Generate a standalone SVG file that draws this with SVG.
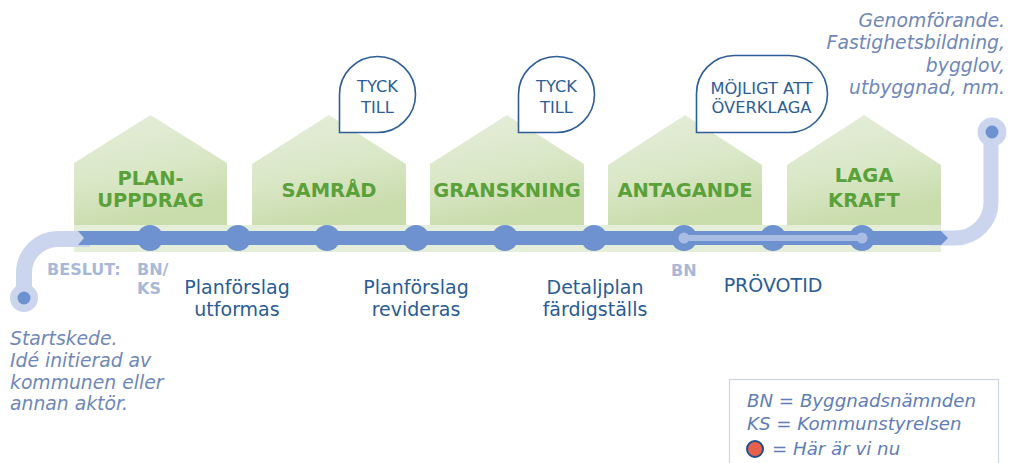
<svg xmlns="http://www.w3.org/2000/svg" width="1015" height="463" viewBox="0 0 1015 463">
<defs>
<linearGradient id="hg" x1="0" y1="0" x2="0.3" y2="1">
<stop offset="0" stop-color="#e6eedc"/>
<stop offset="0.6" stop-color="#d9e7c6"/>
<stop offset="1" stop-color="#c9dcab"/>
</linearGradient>
<style>
.house{fill:url(#hg)}
.ht{font-family:"DejaVu Sans",Verdana,sans-serif;font-weight:bold;font-size:19.5px;fill:#5aa13a;text-anchor:middle}
.dot{fill:#6e92d0}
.lt{font-family:"DejaVu Sans",Verdana,sans-serif;font-weight:bold;font-size:16px;fill:#a8b8d9}
.st{font-family:"DejaVu Sans",Verdana,sans-serif;font-size:19px;fill:#2a5c94;text-anchor:middle}
.it{font-family:"DejaVu Sans",Verdana,sans-serif;font-style:italic;font-size:18.8px;fill:#6f88b8}
.bub{fill:#ffffff;stroke:#2e5e96;stroke-width:1.6}
.bt{font-family:"DejaVu Sans",Verdana,sans-serif;font-size:16.3px;fill:#2e5e96;text-anchor:middle}
.lg{font-family:"DejaVu Sans",Verdana,sans-serif;font-style:italic;font-size:18.2px;fill:#5f7db6}
</style>
</defs>
<rect width="1015" height="463" fill="#ffffff"/>

<g id="band">
<rect x="74" y="225" width="867" height="27" fill="#e4eed8"/>
</g>

<g id="house-planuppdrag">
<polygon class="house" points="74,225 74,163 150.5,115 227,163 227,225"/>
<text class="ht" x="150.5" y="185">PLAN-</text>
<text class="ht" x="150.5" y="207">UPPDRAG</text>
</g>
<g id="house-samrad">
<polygon class="house" points="252,225 252,164 329,115 406,164 406,225"/>
<text class="ht" x="329" y="197">SAMRÅD</text>
</g>
<g id="house-granskning">
<polygon class="house" points="430,225 430,164 507,115 584,164 584,225"/>
<text class="ht" x="507" y="197">GRANSKNING</text>
</g>
<g id="house-antagande">
<polygon class="house" points="608,225 608,165 685,115 762,165 762,225"/>
<text class="ht" x="685" y="197">ANTAGANDE</text>
</g>
<g id="house-lagakraft">
<polygon class="house" points="787,225 787,165 864,115 941,165 941,225"/>
<text class="ht" x="864" y="182">LAGA</text>
<text class="ht" x="864" y="207">KRAFT</text>
</g>

<g id="connectors">
<path d="M24,297 V273 A34,34 0 0 1 58,239 H90" fill="none" stroke="#cbd5ee" stroke-width="16"/>
<path d="M930,238 H955 A36,36 0 0 0 991,202 V132" fill="none" stroke="#cbd5ee" stroke-width="15"/>
<polygon points="78,231 941,231 948,238 941,245 78,245 84,238" fill="#6e92d0"/>
</g>

<g id="start">
<circle cx="24" cy="298" r="14" fill="#cbd5ee"/>
<circle cx="24" cy="298" r="6.5" fill="#6e92d0"/>
</g>
<g id="end">
<circle cx="992" cy="132" r="14.5" fill="#cbd5ee"/>
<circle cx="992" cy="132" r="6.5" fill="#6e92d0"/>
</g>

<g id="dots">
<circle class="dot" cx="150" cy="238" r="13"/>
<circle class="dot" cx="238" cy="238" r="13"/>
<circle class="dot" cx="327" cy="238" r="13"/>
<circle class="dot" cx="416" cy="238" r="13"/>
<circle class="dot" cx="505" cy="238" r="13"/>
<circle class="dot" cx="594" cy="238" r="13"/>
<circle class="dot" cx="684" cy="238" r="13"/>
<circle class="dot" cx="773" cy="238" r="13"/>
<circle class="dot" cx="862" cy="238" r="13"/>
<line x1="684" y1="238" x2="862" y2="238" stroke="#a9bce3" stroke-width="6"/>
<circle cx="684" cy="238" r="5.5" fill="#a9bce3"/>
<circle cx="862" cy="238" r="5.5" fill="#a9bce3"/>
</g>

<g id="bubble-tyck1">
<path class="bub" d="M339.5,132.5 V94.5 A38,38 0 1 1 377.5,132.5 Z"/>
<text class="bt" x="377.5" y="92">TYCK</text>
<text class="bt" x="377.5" y="113">TILL</text>
</g>
<g id="bubble-tyck2">
<path class="bub" d="M518.5,132.5 V94.5 A38,38 0 1 1 556.5,132.5 Z"/>
<text class="bt" x="556.5" y="92">TYCK</text>
<text class="bt" x="556.5" y="113">TILL</text>
</g>
<g id="bubble-overklaga">
<path class="bub" d="M696.5,132.5 V93.5 A38,38 0 0 1 734.5,55.5 H789 A38.5,38.5 0 0 1 827.5,94 A38.5,38.5 0 0 1 789,132.5 Z"/>
<text class="bt" x="761.5" y="94">MÖJLIGT ATT</text>
<text class="bt" x="761.5" y="113">ÖVERKLAGA</text>
</g>

<g id="labels">
<text class="lt" x="47" y="275">BESLUT:</text>
<text class="lt" x="137" y="275">BN/</text>
<text class="lt" x="137" y="294">KS</text>
<text class="lt" x="671" y="276">BN</text>
<text class="st" x="237" y="294">Planförslag</text>
<text class="st" x="237" y="316">utformas</text>
<text class="st" x="416" y="294">Planförslag</text>
<text class="st" x="416" y="316">revideras</text>
<text class="st" x="595" y="294">Detaljplan</text>
<text class="st" x="595" y="316">färdigställs</text>
<text class="st" x="773" y="292">PRÖVOTID</text>
</g>

<g id="start-text">
<text class="it" x="10" y="345">Startskede.</text>
<text class="it" x="10" y="367">Idé initierad av</text>
<text class="it" x="10" y="389">kommunen eller</text>
<text class="it" x="10" y="410">annan aktör.</text>
</g>

<g id="end-text">
<text class="it" x="1005" y="27" text-anchor="end">Genomförande.</text>
<text class="it" x="1005" y="49" text-anchor="end">Fastighetsbildning,</text>
<text class="it" x="1005" y="72" text-anchor="end">bygglov,</text>
<text class="it" x="1005" y="94" text-anchor="end">utbyggnad, mm.</text>
</g>

<g id="legend">
<rect x="729.5" y="379.5" width="269" height="90" fill="#ffffff" stroke="#cdd4df" stroke-width="1.2"/>
<text class="lg" x="747" y="407">BN = Byggnadsnämnden</text>
<text class="lg" x="747" y="430">KS = Kommunstyrelsen</text>
<circle cx="755" cy="449" r="8" fill="#e8604c" stroke="#1f4f8f" stroke-width="2"/>
<text class="lg" x="772" y="455">= Här är vi nu</text>
</g>
</svg>
